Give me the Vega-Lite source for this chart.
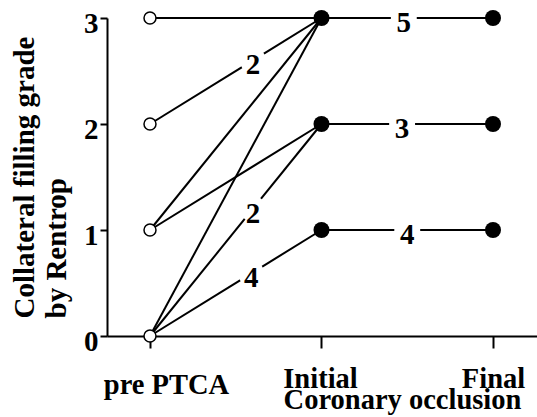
{
  "$schema": "https://vega.github.io/schema/vega-lite/v6.json",
  "autosize": {"type": "none"},
  "padding": {"left": 107, "top": 18, "right": 0, "bottom": 81},
  "width": 430,
  "height": 318,
  "background": "white",
  "config": {"view": {"stroke": null}},
  "datasets": {
    "lines": [
      {"seg": "a", "stage": 0, "grade": 3}, {"seg": "a", "stage": 1, "grade": 3},
      {"seg": "b", "stage": 0, "grade": 2}, {"seg": "b", "stage": 1, "grade": 3},
      {"seg": "c", "stage": 0, "grade": 1}, {"seg": "c", "stage": 1, "grade": 3},
      {"seg": "d", "stage": 0, "grade": 1}, {"seg": "d", "stage": 1, "grade": 2},
      {"seg": "e", "stage": 0, "grade": 0}, {"seg": "e", "stage": 1, "grade": 3},
      {"seg": "f", "stage": 0, "grade": 0}, {"seg": "f", "stage": 1, "grade": 2},
      {"seg": "g", "stage": 0, "grade": 0}, {"seg": "g", "stage": 1, "grade": 1},
      {"seg": "h", "stage": 1, "grade": 3}, {"seg": "h", "stage": 2, "grade": 3},
      {"seg": "i", "stage": 1, "grade": 2}, {"seg": "i", "stage": 2, "grade": 2},
      {"seg": "j", "stage": 1, "grade": 1}, {"seg": "j", "stage": 2, "grade": 1}
    ],
    "labels": [
      {"n": "2", "stage": 0.6, "grade": 2.6},
      {"n": "2", "stage": 0.6, "grade": 1.2},
      {"n": "4", "stage": 0.59, "grade": 0.59},
      {"n": "5", "stage": 1.48, "grade": 3},
      {"n": "3", "stage": 1.47, "grade": 2},
      {"n": "4", "stage": 1.5, "grade": 1}
    ],
    "points": [
      {"kind": "pre", "stage": 0, "grade": 0},
      {"kind": "pre", "stage": 0, "grade": 1},
      {"kind": "pre", "stage": 0, "grade": 2},
      {"kind": "pre", "stage": 0, "grade": 3},
      {"kind": "post", "stage": 1, "grade": 1},
      {"kind": "post", "stage": 1, "grade": 2},
      {"kind": "post", "stage": 1, "grade": 3},
      {"kind": "post", "stage": 2, "grade": 1},
      {"kind": "post", "stage": 2, "grade": 2},
      {"kind": "post", "stage": 2, "grade": 3}
    ]
  },
  "layer": [
    {
      "data": {"name": "lines"},
      "mark": {"type": "line", "color": "black", "strokeWidth": 2},
      "encoding": {
        "detail": {"field": "seg"},
        "x": {
          "field": "stage", "type": "quantitative",
          "scale": {"domain": [-0.2507, 2.2566], "nice": false, "zero": false},
          "axis": {
            "values": [0, 1, 2],
            "labelExpr": "datum.value == 0 ? 'pre PTCA' : datum.value == 1 ? 'Initial' : 'Final'",
            "labelFont": "Liberation Serif, Times New Roman, serif", "labelFontWeight": "bold", "labelFontSize": 28.5,
            "labelColor": "black", "labelAlign": "center", "labelBaseline": "alphabetic",
            "labelPadding": {"condition": {"test": "datum.value == 0", "value": 45}, "value": 39},
            "labelOffset": {"condition": [{"test": "datum.value == 0", "value": 16}, {"test": "datum.value == 1", "value": -1.5}], "value": 0},
            "labelOverlap": false, "labelFlush": false, "labelBound": false,
            "domainColor": "black", "domainWidth": 2,
            "tickColor": "black", "tickWidth": 2, "tickSize": 12,
            "grid": false,
            "title": "Coronary occlusion",
            "titleFont": "Liberation Serif, Times New Roman, serif", "titleFontWeight": "bold", "titleFontSize": 28.5,
            "titleColor": "black", "titleX": 295, "titleY": 72,
            "titleAlign": "center", "titleBaseline": "alphabetic"
          }
        },
        "y": {
          "field": "grade", "type": "quantitative",
          "scale": {"domain": [0, 3], "nice": false, "zero": false},
          "axis": {
            "values": [0, 1, 2, 3], "format": "d",
            "labelFont": "Liberation Serif, Times New Roman, serif", "labelFontWeight": "bold", "labelFontSize": 29,
            "labelColor": "black", "labelAlign": "right", "labelBaseline": "middle",
            "labelOffset": 5, "labelPadding": 2,
            "labelOverlap": false, "labelFlush": false, "labelBound": false,
            "domainColor": "black", "domainWidth": 2,
            "tickColor": "black", "tickWidth": 2, "tickSize": 7,
            "grid": false,
            "title": ["Collateral filling grade", "by Rentrop"],
            "titleFont": "Liberation Serif, Times New Roman, serif", "titleFontWeight": "bold", "titleFontSize": 29,
            "titleColor": "black", "titleAngle": 270, "titleAlign": "left",
            "titleBaseline": "alphabetic", "titleLineHeight": 32,
            "titleX": -74, "titleY": 300
          }
        }
      }
    },
    {
      "data": {"name": "labels"},
      "mark": {"type": "point", "shape": "circle", "filled": true, "color": "white", "opacity": 1, "size": 676, "strokeWidth": 0},
      "encoding": {
        "x": {"field": "stage", "type": "quantitative"},
        "y": {"field": "grade", "type": "quantitative"}
      }
    },
    {
      "data": {"name": "labels"},
      "mark": {"type": "text", "font": "Liberation Serif, Times New Roman, serif", "fontWeight": "bold", "fontSize": 29, "color": "black", "baseline": "middle", "align": "center", "dy": 5},
      "encoding": {
        "x": {"field": "stage", "type": "quantitative"},
        "y": {"field": "grade", "type": "quantitative"},
        "text": {"field": "n"}
      }
    },
    {
      "data": {"name": "points"},
      "transform": [{"filter": "datum.kind == 'pre'"}],
      "mark": {"type": "point", "shape": "circle", "filled": false, "fill": "white", "stroke": "black", "strokeWidth": 1.5, "opacity": 1, "size": 144},
      "encoding": {
        "x": {"field": "stage", "type": "quantitative"},
        "y": {"field": "grade", "type": "quantitative"}
      }
    },
    {
      "data": {"name": "points"},
      "transform": [{"filter": "datum.kind == 'post'"}],
      "mark": {"type": "point", "shape": "circle", "filled": true, "color": "black", "opacity": 1, "size": 256},
      "encoding": {
        "x": {"field": "stage", "type": "quantitative"},
        "y": {"field": "grade", "type": "quantitative"}
      }
    }
  ]
}
